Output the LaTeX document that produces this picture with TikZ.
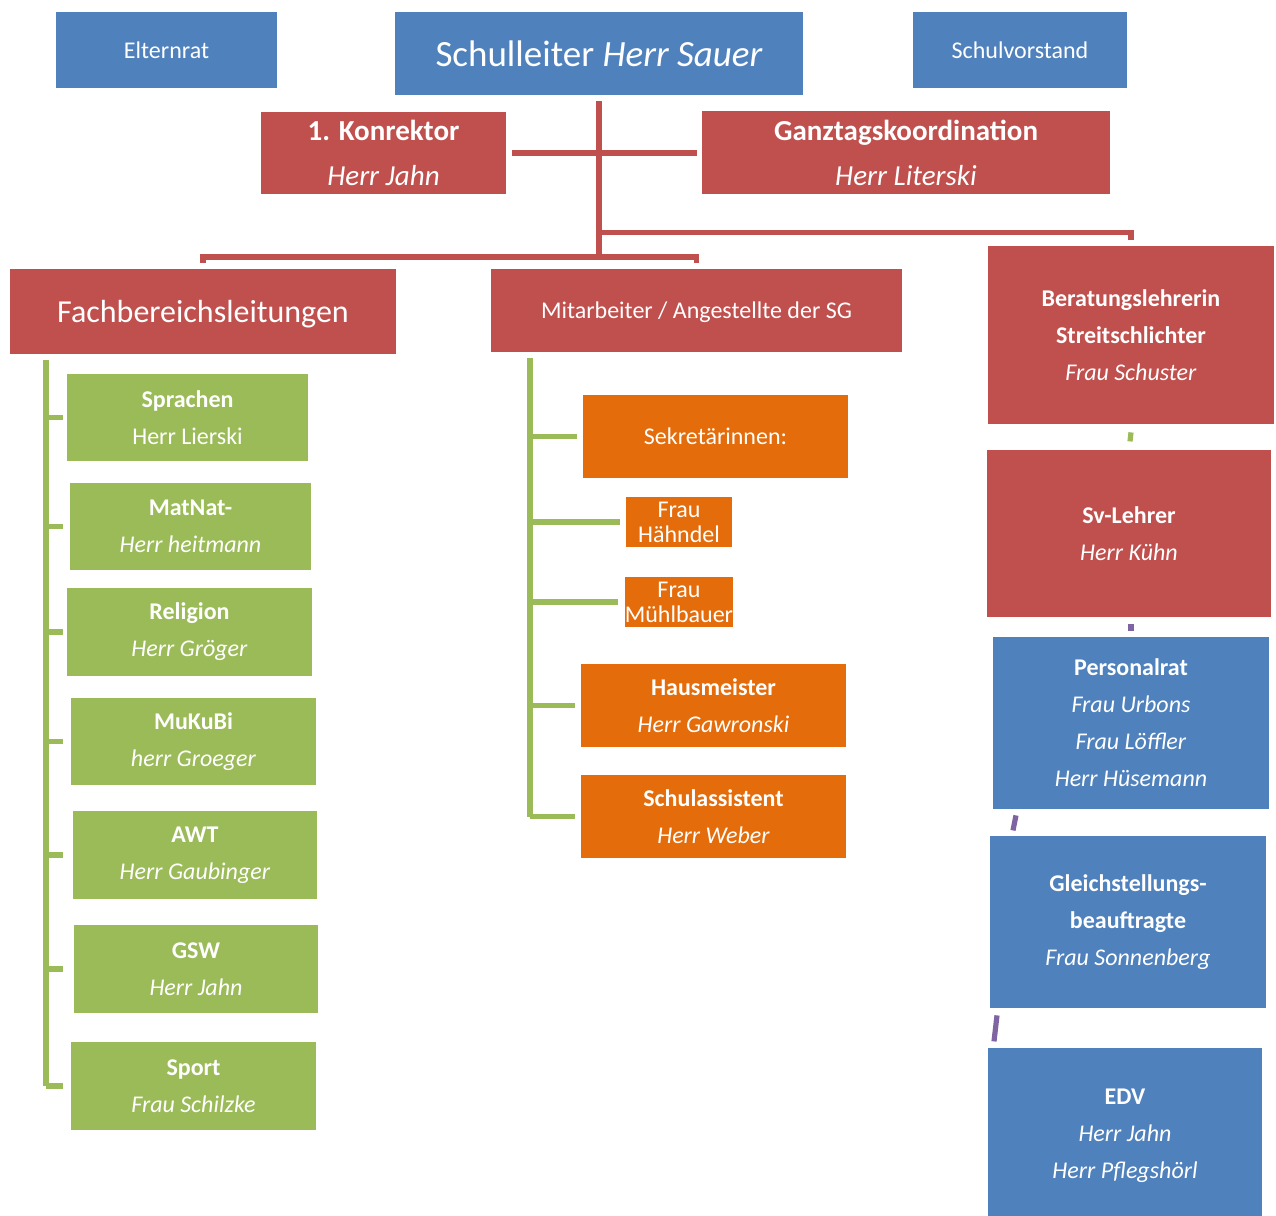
\documentclass[tikz,border=0pt]{standalone}
\usepackage{fontspec}
\setmainfont{Carlito}
\usetikzlibrary{calc}
\definecolor{cblue}{HTML}{4F81BD}
\definecolor{cred}{HTML}{C0504D}
\definecolor{cgreen}{HTML}{9BBB59}
\definecolor{corange}{HTML}{E46C0A}
\definecolor{cpurple}{HTML}{8064A2}
\tikzset{
  box/.style={fill=#1, text=white, align=center, inner sep=0pt, font=\fontsize{12}{18.5}\selectfont},
  box/.default=cblue,
  sz/.style 2 args={minimum width=#1*0.5pt, minimum height=#2*0.5pt},
  link/.style={draw=#1, line width=2.6pt},
  link/.default=cred,
}

\begin{document}
\begin{tikzpicture}[x=0.5pt, y=-0.5pt]
  \useasboundingbox (0,0) rectangle (1276,1216);
  \node[box, sz={221}{76}] (er) at (166.5,50) {Elternrat};
  \node[box, sz={408}{83}, font=\fontsize{18.5}{22}\selectfont] (sl) at (599,53.5) {Schulleiter \textit{Herr Sauer}};
  \node[box, sz={214}{76}] (sv) at (1020,50) {Schulvorstand};
  \node[box=cred, sz={245}{82}, font=\fontsize{14.5}{22.5}\selectfont] (kr) at (383.5,153) {\textbf{1. Konrektor}\\\textit{Herr Jahn}};
  \node[box=cred, sz={408}{83}, font=\fontsize{14.5}{22.5}\selectfont] (gt) at (906,152.5) {\textbf{Ganztagskoordination}\\\textit{Herr Literski}};
  \node[box=cred, sz={386}{85}, font=\fontsize{16}{20}\selectfont, text depth=0pt] (fb) at (203,311.5) {Fachbereichsleitungen};
  \node[box=cred, sz={411}{83}, text depth=0pt] (ma) at (696.5,310.5) {Mitarbeiter / Angestellte der SG};
  \node[box=cred, sz={286}{178}] (bl) at (1131,335) {\textbf{Beratungslehrerin}\\\textbf{Streitschlichter}\\\textit{Frau Schuster}};
  \node[box=cred, sz={284}{167}] (svl) at (1129,533.5) {\textbf{Sv-Lehrer}\\\textit{Herr Kühn}};
  \node[box, sz={276}{172}] (pr) at (1131,723) {\textbf{Personalrat}\\\textit{Frau Urbons}\\\textit{Frau Löffler}\\\textit{Herr Hüsemann}};
  \node[box, sz={276}{172}] (gb) at (1128,922) {\textbf{Gleichstellungs-}\\\textbf{beauftragte}\\\textit{Frau Sonnenberg}};
  \node[box, sz={274}{176}] (edv) at (1125,1136) {\textbf{EDV}\\\textit{Herr Jahn}\\\textit{Herr Pflegshörl}};

  \node[box=cgreen, sz={241}{87}] (sp) at (187.5,417.5) {\textbf{Sprachen}\\Herr Lierski};
  \node[box=cgreen, sz={241}{87}] (mn) at (190.5,526.5) {\textbf{MatNat-}\\\textit{Herr heitmann}};
  \node[box=cgreen, sz={245}{88}] (rel) at (189.5,632) {\textbf{Religion}\\\textit{Herr Gröger}};
  \node[box=cgreen, sz={245}{87}] (mk) at (193.5,741.5) {\textbf{MuKuBi}\\\textit{herr Groeger}};
  \node[box=cgreen, sz={244}{88}] (awt) at (195,855) {\textbf{AWT}\\\textit{Herr Gaubinger}};
  \node[box=cgreen, sz={244}{88}] (gsw) at (196,969) {\textbf{GSW}\\\textit{Herr Jahn}};
  \node[box=cgreen, sz={245}{88}] (spo) at (193.5,1086) {\textbf{Sport}\\\textit{Frau Schilzke}};

  \node[box=corange, sz={265}{83}] (sk) at (715.5,436.5) {Sekretärinnen:};
  \node[box=corange, sz={106}{50}, font=\fontsize{12}{12.5}\selectfont] (fh) at (679,522) {Frau\\Hähndel};
  \node[box=corange, sz={106}{50}, font=\fontsize{12}{12.5}\selectfont] (fm) at (679,602) {Frau\\Mühlbauer};
  \node[box=corange, sz={265}{83}] (hm) at (713.5,705.5) {\textbf{Hausmeister}\\\textit{Herr Gawronski}};
  \node[box=corange, sz={265}{83}] (sa) at (713.5,816.5) {\textbf{Schulassistent}\\\textit{Herr Weber}};

  \coordinate (hub) at (599,257);
  \draw[link] ($(sl.south)+(0,6)$) -- (hub);
  \draw[link] ($(kr.east)+(6,0)$) -- ($(gt.west |- kr.east)+(-5,0)$);
  \draw[link] ($(sl.south)+(0,137)$) -| ($(bl.north)+(0,-6)$);
  \draw[link] ($(fb.north)+(0,-6)$) |- (hub) -| ($(ma.north)+(0,-6)$);

  \coordinate (fbl) at (46,360);
  \draw[link=cgreen] (fbl) -- (fbl |- spo.west);
  \foreach \n in {sp,mn,rel,mk,awt,gsw,spo}
    \draw[link=cgreen] (fbl |- \n.west) -- ++(17,0);
  \coordinate (mal) at (530,358);
  \draw[link=cgreen] (mal) -- (mal |- sa.west);
  \foreach \n in {sk,fh,fm,hm,sa}
    \draw[link=cgreen] (mal |- \n.west) -- ($(\n.west)+(-6,0)$);

  \draw[link=cgreen] ($(bl.south)+(-1,17)$) -- ($(bl.south)+(0,8)$);
  \draw[link=cpurple] ($(svl.south)+(2,7)$) -- ($(svl.south)+(2,14)$);
  \draw[link=cpurple] ($(pr.south)+(-118,21)$) -- ($(pr.south)+(-115,6)$);
  \draw[link=cpurple] ($(gb.south)+(-134,33)$) -- ($(gb.south)+(-131,7)$);
\end{tikzpicture}
\end{document}
